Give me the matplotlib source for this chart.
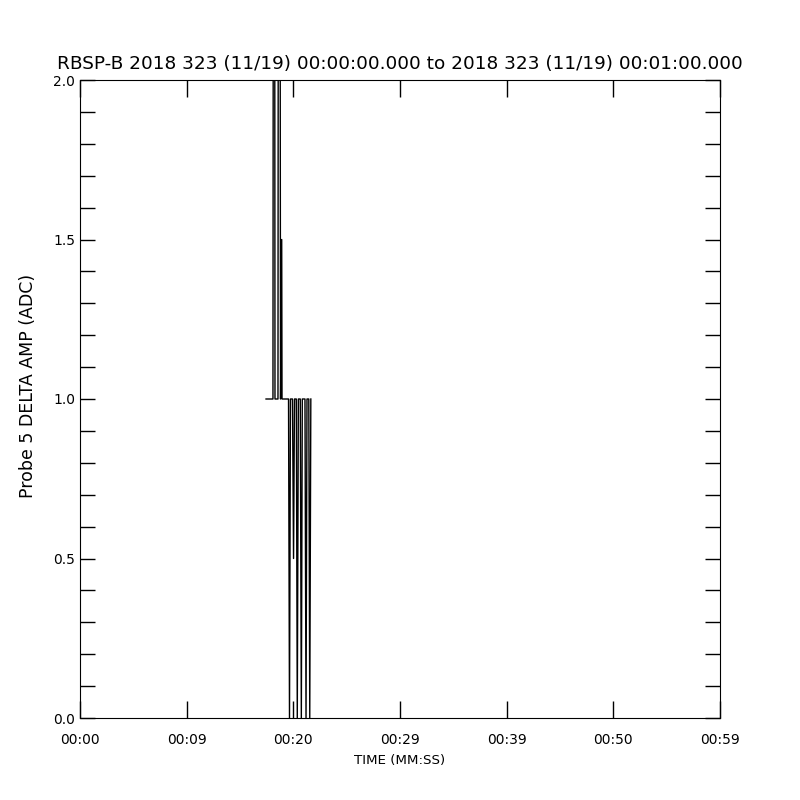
import matplotlib
matplotlib.use("Agg")
import matplotlib.pyplot as plt
import numpy as np

# sample times (seconds after 00:00:00) and Probe 5 delta amplitude (ADC)
t = np.array([17.44, 18.09, 18.19, 18.28, 18.56, 18.66, 18.80, 18.91, 18.94,
              19.55, 19.64, 19.73, 19.92, 20.02, 20.11, 20.28, 20.37, 20.47,
              20.65, 20.75, 20.84, 21.09, 21.19, 21.28, 21.45, 21.54, 21.64])
amp = np.array([1, 1, 6, 1, 1, 6, 1, 1.5, 1,
                1, 0, 1, 1, 0.5, 1, 1, 0, 1,
                1, 0, 1, 1, 0, 1, 1, 0, 1])

xticks = [0, 10, 20, 30, 40, 50, 60]
xlabels = ["00:00", "00:09", "00:20", "00:29", "00:39", "00:50", "00:59"]
yticks = [0.0, 0.5, 1.0, 1.5, 2.0]

fig = plt.figure(figsize=(8, 8), dpi=100)
ax = fig.add_axes([0.1, 0.1025, 0.8, 0.7975])
ax.plot(t, amp, color="black", linewidth=1)

ax.set_xlim(0, 60)
ax.set_ylim(0, 2)
ax.set_xticks(xticks)
ax.set_xticklabels(xlabels)
ax.set_yticks(yticks)
ax.set_yticklabels(["%.1f" % v for v in yticks])
ax.set_yticks(np.arange(0, 2.01, 0.1), minor=True)
ax.tick_params(axis="both", which="both", direction="in", top=True, right=True,
               length=11, width=1, labelsize=10)
ax.tick_params(axis="x", which="minor", length=0)
ax.tick_params(axis="x", which="major", length=12, pad=10.5)
ax.tick_params(axis="y", which="both", pad=3.5)

ax.set_xlabel("TIME (MM:SS)", fontsize=9.6, labelpad=5)
ax.set_ylabel("Probe 5 DELTA AMP (ADC)", fontsize=12.5)
ax.yaxis.set_label_coords(-0.067, 0.52)
ax.set_title("RBSP-B 2018 323 (11/19) 00:00:00.000 to 2018 323 (11/19) 00:01:00.000",
             fontsize=13.3, pad=8)

fig.savefig("out.png", dpi=100)
